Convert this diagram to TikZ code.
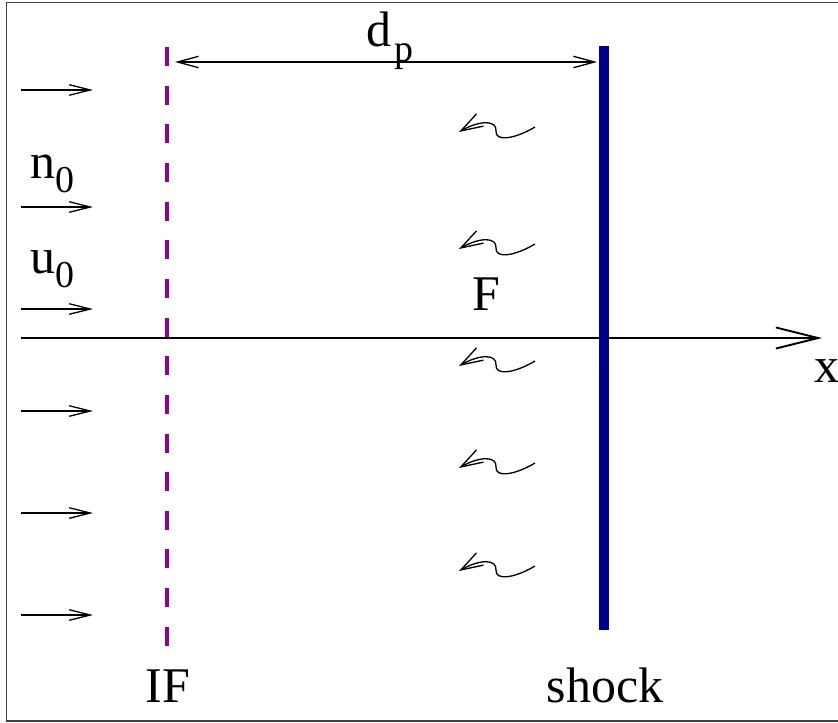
\documentclass[tikz,border=0pt]{standalone}
\usepackage{fontspec}
\setmainfont{Liberation Serif}
\usetikzlibrary{arrows.meta}
\definecolor{ifpurple}{HTML}{900090}
\definecolor{shockblue}{HTML}{000090}
\newcommand{\lowsub}[2]{#1\raisebox{-8.5pt}{\fontsize{21.6}{22}\selectfont #2}}

\begin{document}
\begin{tikzpicture}[x=0.02cm,y=-0.02cm,font=\fontsize{28.4}{30}\selectfont,
    flow/.style={line width=0.75pt,-{Straight Barb[length=12pt,width=6pt]}},
    wave/.style={line width=0.75pt,-{Straight Barb[length=12.5pt,width=8pt]}},
    lbl/.style={inner sep=0pt,anchor=base west}]
    \useasboundingbox (0,0) rectangle (838,723);
    \draw[black!75,line width=1.1pt] (6.5,2.5) rectangle (850,721);
    \coordinate (ax0) at (21,338);
    \coordinate (ax1) at (822,338);
    \coordinate (iftop) at (167,47);
    \coordinate (ifbot) at (167,646);
    \coordinate (shtop) at (604,46);
    \coordinate (shbot) at (604,630);
    \coordinate (dpl) at (175,62);
    \coordinate (dpr) at (597,62);
    \foreach \yy in {90,207,309,411,513,615}
      \draw[flow] (21,\yy) -- (93,\yy);
    \draw[line width=1.1pt,-{Straight Barb[length=24pt,width=12pt]}] (ax0) -- (ax1);
    \draw[ifpurple,line width=2.6pt,dash pattern=on 10.8pt off 11.2pt] (iftop) -- (ifbot);
    \draw[shockblue,line width=5.3pt] (shtop) -- (shbot);
    \draw[line width=0.75pt,{Straight Barb[length=12pt,width=6.5pt]}-{Straight Barb[length=12pt,width=6.5pt]}] (dpl) -- (dpr);
    \foreach \yy in {127,244,361,463,566}
      \draw[wave,shift={(0,\yy)}] (535,0) .. controls (515,12) and (495,15) .. (496,4) .. controls (497,-7) and (480,-7) .. (459,5);
    \node[lbl] (nlabel) at (30,178) {\lowsub{n}{0}};
    \node[lbl] (ulabel) at (30,273) {\lowsub{u}{0}};
    \node[lbl] (dplabel) at (366,47) {\lowsub{d\kern2pt}{p}};
    \node[lbl] (flabel) at (472,310) {F};
    \node[lbl] (xlabel) at (814,382) {x};
    \node[inner sep=0pt,anchor=base] (iflabel) at (168,702) {IF};
    \node[inner sep=0pt,anchor=base] (shocklabel) at (605,702) {shock};
\end{tikzpicture}
\end{document}
